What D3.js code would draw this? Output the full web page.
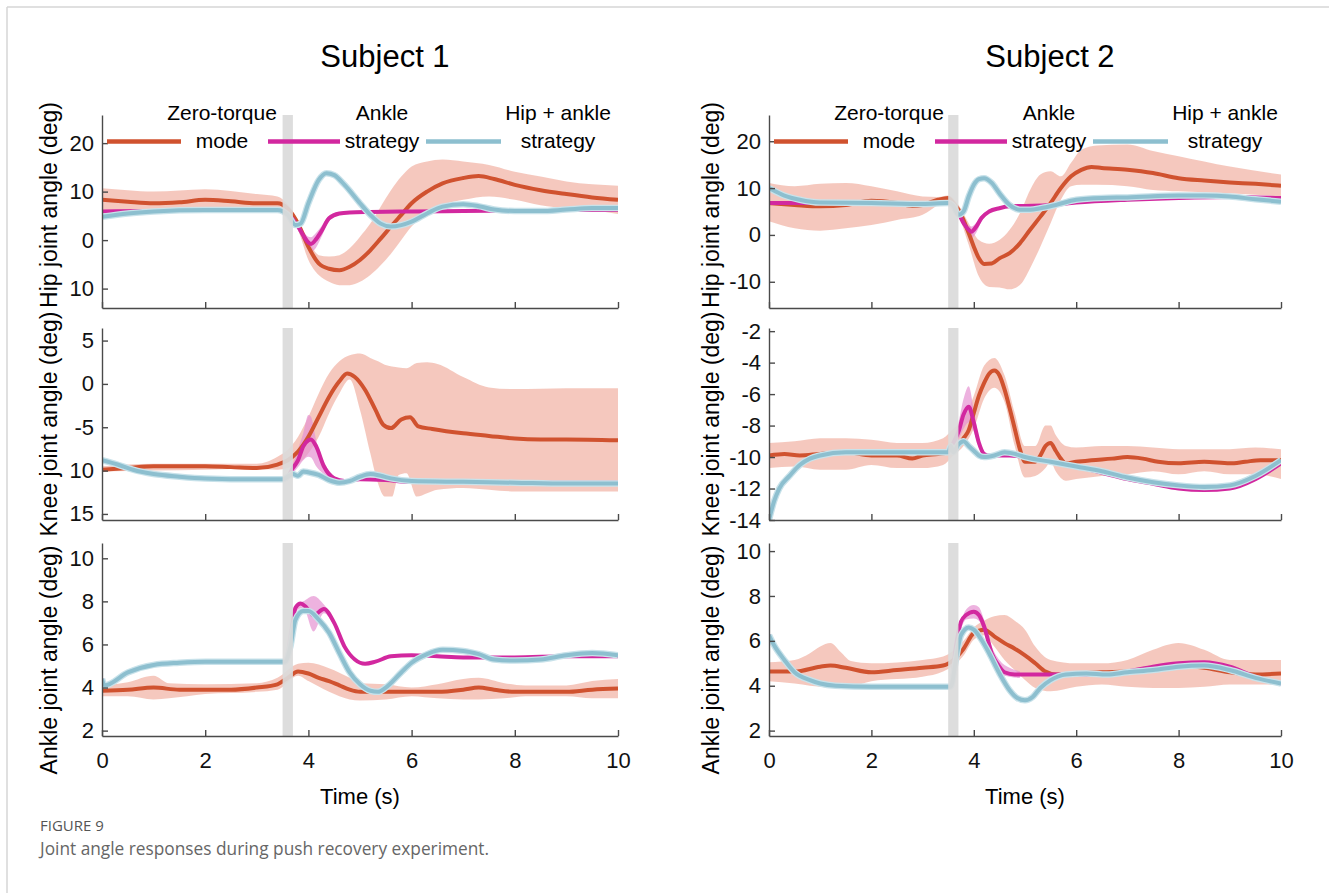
<!DOCTYPE html>
<html>
<head>
<meta charset="utf-8">
<script src="https://cdn.jsdelivr.net/npm/d3@7"></script>
<style>
  html, body { margin: 0; padding: 0; background: #fff; }
  svg { display: block; font-family: "Liberation Sans", Arial, sans-serif; }
  .axis path, .axis line { stroke: #4a4a4a; stroke-width: 1.4; }
  .axis text { font-size: 22px; fill: #111; font-family: "Liberation Sans", Arial, sans-serif; }
</style>
</head>
<body>
<div id="chart"></div>
<script>
// ---- shared values ----
const timeTicks = [0, 2, 4, 6, 8, 10];
const pushWindow = [3.5, 3.7];
const subjects = ["Subject 1", "Subject 2"];
const legendTop = ["Zero-torque", "Ankle", "Hip + ankle"];
const legendBottom = ["mode", "strategy", "strategy"];
const jointLabels = ["Hip joint angle (deg)", "Knee joint angle (deg)", "Ankle joint angle (deg)"];

// y ticks [values, labels as printed]
const s1HipTicks = [20, 10, 0, -10];
const s1HipTickText = ["20", "10", "0", "10"];
const s2HipTicks = [20, 10, 0, -10];
const s2HipTickText = ["20", "10", "0", "-10"];
const s1KneeTicks = [5, 0, -5, -10, -15];
const s1KneeTickText = ["5", "0", "-5", "10", "15"];
const s2KneeTicks = [-2, -4, -6, -8, -10, -12, -14];
const s2KneeTickText = ["-2", "-4", "-6", "-8", "-10", "-12", "-14"];
const ankleTicks = [10, 8, 6, 4, 2];
const ankleTickText = ["10", "8", "6", "4", "2"];

// ---- Subject 1, hip ----
const s1HipZero = [[0,8.3],[0.5,7.9],[1,7.6],[1.5,7.8],[2,8.3],[2.5,8.0],[3,7.6],[3.4,7.6],[3.6,6.5],[3.8,3.4],[4.0,-1.4],[4.2,-4.8],[4.4,-5.9],[4.6,-6.2],[4.8,-5.5],[5.0,-4.1],[5.2,-2.1],[5.4,0.3],[5.6,2.8],[5.8,5.2],[6.0,7.6],[6.3,10],[6.6,11.7],[7.0,12.8],[7.3,13.2],[7.6,12.6],[8.0,11.4],[8.5,10.3],[9.0,9.5],[9.5,8.8],[10,8.3]];
const s1HipZeroBand = [[0,5.9,10.7],[0.5,5.6,10.3],[1,5.5,10.0],[2,5.9,10.5],[3,6.3,9.5],[3.4,6.6,9.0],[3.6,5.6,7.4],[3.8,2.1,4.1],[4.0,-4.1,0],[4.2,-7.2,-3.1],[4.4,-8.6,-3.4],[4.6,-9.3,-3.1],[4.8,-9.3,-1.7],[5.0,-8.6,0.7],[5.2,-7.2,3.4],[5.4,-5.2,6.9],[5.6,-2.8,10.3],[5.8,0,13.1],[6.0,2.8,15.2],[6.3,5.5,16.2],[6.6,7.2,16.6],[7.0,8.3,16.2],[7.5,9.0,15.5],[8.0,8.3,14.1],[8.5,7.2,13.1],[9.0,6.6,12.1],[9.5,6.1,11.5],[10,5.4,11.2]];
const s1HipAnkle = [[0,5.9],[1,6.0],[2,6.1],[3,6.2],[3.45,6.2],[3.6,5.4],[3.8,2.8],[3.9,1.0],[4.0,-0.5],[4.05,-0.8],[4.15,0.2],[4.25,1.8],[4.4,4.5],[4.6,5.5],[4.8,5.7],[5.2,5.8],[6,5.9],[7,6.0],[8,6.1],[9,6.2],[10,6.2]];
const s1HipAnkleBand = [[3.45,6.0,6.4],[3.6,5.0,5.8],[3.8,2.0,3.6],[3.9,-0.2,1.9],[4.0,-2.0,0.7],[4.05,-2.4,0.6],[4.15,-1.5,1.5],[4.25,0.6,2.8],[4.4,3.9,5.0],[4.6,5.2,5.8],[4.8,5.5,5.9]];
const s1HipCombo = [[0,4.8],[0.5,5.5],[1,5.9],[2,6.2],[3.4,6.2],[3.6,5.2],[3.75,3.1],[3.85,3.4],[4.0,7.6],[4.2,12.4],[4.35,13.8],[4.5,13.4],[4.7,11.4],[5.0,7.6],[5.2,5.2],[5.4,3.4],[5.6,2.8],[5.8,3.1],[6.0,3.8],[6.3,5.5],[6.6,6.9],[7.0,7.4],[7.3,7.0],[7.6,6.3],[8.0,6.0],[8.5,6.0],[9.0,6.3],[9.5,6.6],[10,6.6]];

// ---- Subject 1, knee ----
const s1KneeZero = [[0,-9.9],[0.5,-9.7],[1,-9.5],[1.5,-9.5],[2,-9.5],[2.5,-9.6],[3,-9.7],[3.4,-9.3],[3.6,-8.8],[3.8,-7.8],[4.0,-6.1],[4.2,-3.8],[4.4,-1.5],[4.6,0.3],[4.75,1.2],[4.9,0.8],[5.1,-0.7],[5.3,-3.0],[5.45,-4.7],[5.6,-5.1],[5.8,-4.1],[5.97,-3.85],[6.13,-4.9],[6.4,-5.2],[7.0,-5.7],[7.5,-6.0],[8.0,-6.3],[8.5,-6.4],[9,-6.4],[10,-6.5]];
const s1KneeZeroBand = [[0,-10.1,-9.5],[1,-10.0,-9.2],[2,-9.9,-9.2],[3,-9.8,-9.2],[3.4,-9.9,-8.4],[3.6,-9.7,-7.6],[3.8,-9.2,-6.1],[4.0,-8.0,-3.8],[4.2,-6.1,-1.1],[4.4,-3.4,1.2],[4.6,-1.1,2.6],[4.8,0.5,3.3],[5.0,-3.0,3.5],[5.2,-8.0,3.0],[5.35,-11.5,2.6],[5.48,-13.0,2.2],[5.62,-13.0,2.0],[5.75,-10.5,1.9],[5.9,-10.3,1.8],[6.1,-13.0,2.4],[6.3,-12.6,2.5],[6.5,-12.2,2.3],[7.0,-12.0,0.8],[7.5,-12.2,-0.4],[8.0,-12.4,-0.6],[9.0,-12.4,-0.5],[10,-12.4,-0.5]];
const s1KneeAnkle = [[0,-8.8],[0.3,-9.3],[0.6,-9.9],[1,-10.4],[1.5,-10.7],[2,-10.9],[3,-11.0],[3.55,-11.0],[3.7,-9.7],[3.8,-8.8],[3.9,-7.2],[4.0,-6.5],[4.05,-6.4],[4.15,-7.2],[4.3,-9.5],[4.5,-10.9],[4.7,-11.2],[5.0,-11.0],[5.5,-11.1],[6,-11.3],[7,-11.3],[8,-11.4],[10,-11.4]];
const s1KneeAnkleBand = [[3.55,-11.2,-10.8],[3.7,-10.3,-9.2],[3.8,-9.6,-7.5],[3.9,-8.8,-5.7],[4.0,-8.4,-3.6],[4.05,-8.5,-3.8],[4.15,-9.5,-6.5],[4.3,-10.4,-9.0],[4.5,-11.2,-10.6]];
const s1KneeCombo = [[0,-8.8],[0.3,-9.3],[0.6,-9.9],[1,-10.4],[1.5,-10.7],[2,-10.9],[3,-11.0],[3.5,-11.0],[3.6,-10.7],[3.7,-10.4],[3.8,-10.6],[3.9,-10.1],[4.0,-10.2],[4.2,-10.5],[4.4,-11.1],[4.6,-11.4],[4.8,-11.2],[5.0,-10.7],[5.2,-10.4],[5.4,-10.6],[5.6,-10.9],[6,-11.2],[7,-11.3],[8,-11.4],[9,-11.5],[10,-11.5]];

// ---- Subject 1, ankle ----
const s1AnkleZero = [[0,3.85],[0.5,3.9],[1,4.0],[1.5,3.9],[2,3.9],[2.5,3.9],[3,4.0],[3.4,4.15],[3.6,4.45],[3.8,4.75],[4,4.65],[4.2,4.45],[4.4,4.3],[4.6,4.1],[4.8,3.9],[5,3.8],[5.5,3.8],[6,3.8],[6.5,3.8],[7,3.9],[7.3,4.0],[7.6,3.9],[8,3.8],[8.5,3.8],[9,3.8],[9.5,3.9],[10,3.95]];
const s1AnkleZeroBand = [[0,3.6,4.1],[0.5,3.6,4.25],[1.0,3.45,4.55],[1.3,3.5,4.2],[2,3.7,4.15],[3,3.8,4.2],[3.4,3.9,4.45],[3.8,4.55,5.1],[4.0,4.3,5.15],[4.4,3.8,4.9],[4.8,3.45,4.45],[5.0,3.4,4.2],[5.5,3.45,4.15],[6,3.6,4.0],[6.5,3.5,4.15],[7.0,3.45,4.4],[7.3,3.45,4.45],[7.8,3.5,4.2],[8.2,3.6,4.1],[9,3.6,4.1],[9.5,3.5,4.3],[10,3.5,4.4]];
const s1AnkleAnkle = [[0,4.4],[0.05,4.1],[0.5,4.7],[1,5.05],[1.5,5.15],[2,5.2],[3,5.2],[3.55,5.2],[3.65,6.1],[3.75,7.7],[3.85,7.9],[3.95,7.75],[4.1,7.35],[4.3,7.65],[4.5,7.0],[4.7,5.9],[4.9,5.3],[5.1,5.1],[5.3,5.2],[5.6,5.45],[6,5.5],[6.5,5.45],[7,5.4],[8,5.4],[9,5.45],[10,5.45]];
const s1AnkleAnkleBand = [[3.55,5.1,5.3],[3.75,7.5,7.85],[3.9,7.7,8.0],[4.1,6.6,8.25],[4.3,7.45,7.85],[4.5,6.85,7.15]];
const s1AnkleCombo = [[0,4.4],[0.05,4.1],[0.5,4.7],[1,5.05],[1.5,5.15],[2,5.2],[3,5.2],[3.55,5.2],[3.65,5.9],[3.75,7.15],[3.9,7.55],[4.0,7.55],[4.2,7.15],[4.4,6.55],[4.6,5.6],[4.8,4.7],[5.0,4.15],[5.2,3.85],[5.35,3.8],[5.5,4.0],[5.8,4.7],[6.0,5.15],[6.3,5.55],[6.6,5.75],[7.0,5.7],[7.3,5.55],[7.6,5.3],[8.0,5.25],[8.5,5.3],[9,5.5],[9.5,5.6],[10,5.5]];

// ---- Subject 2, hip ----
const s2HipZero = [[0,6.8],[0.5,6.4],[1.0,6.1],[1.5,6.4],[2.0,7.3],[2.5,6.8],[2.8,6.2],[3.0,6.4],[3.3,7.5],[3.5,7.9],[3.6,6.8],[3.7,5.4],[3.8,3.2],[3.9,0.4],[4.0,-2.5],[4.1,-5.0],[4.2,-6.2],[4.35,-6.1],[4.5,-5.0],[4.7,-3.9],[4.9,-1.8],[5.1,1.1],[5.3,3.9],[5.5,6.8],[5.7,10],[5.9,12.5],[6.1,13.9],[6.3,14.5],[6.5,14.3],[7,13.9],[7.5,13.2],[8,12.1],[8.5,11.6],[9,11.2],[9.5,10.9],[10,10.5]];
const s2HipZeroBand = [[0,2.9,11.1],[0.5,1.4,10.4],[1.0,0.9,10.9],[1.5,1.4,11.1],[2.0,2.1,10.4],[2.5,3.2,9.3],[3.0,4.3,8.2],[3.3,6.4,8.1],[3.5,7.4,8.4],[3.7,4.3,6.4],[3.9,-2.1,2.5],[4.1,-8.9,-1.1],[4.3,-11.1,-1.9],[4.5,-11.2,-1.1],[4.7,-11.6,1.1],[4.9,-10.7,4.6],[5.1,-7.1,9.6],[5.3,-2.5,12.9],[5.5,2.5,13.6],[5.7,7.5,12.5],[5.9,10.4,15.4],[6.1,10.7,18.2],[6.4,10.7,19.1],[7.0,10.4,19.3],[7.5,9.6,17.9],[8,9.3,16.8],[9,8.9,14.6],[10,8.2,12.9]];
const s2HipAnkle = [[0,6.8],[1,6.8],[2,6.8],[3,6.7],[3.5,6.8],[3.6,6.1],[3.7,4.6],[3.8,2.5],[3.9,1.1],[3.95,0.7],[4.05,1.8],[4.15,3.6],[4.3,5.0],[4.5,5.7],[4.7,6.1],[5,6.2],[5.5,6.4],[6,6.9],[7,7.5],[8,7.9],[9,8.1],[10,7.9]];
const s2HipAnkleBand = [[3.5,6.6,7.0],[3.6,5.9,6.3],[3.8,2.0,3.0],[3.95,-0.7,1.8],[4.05,0.5,2.6],[4.15,2.9,4.2],[4.3,4.6,5.3],[4.5,5.5,5.9]];
const s2HipCombo = [[0,10],[0.3,8.4],[0.6,7.5],[1.0,6.9],[2,6.8],[3,6.6],[3.5,6.8],[3.6,6.2],[3.7,4.3],[3.8,5.0],[3.9,8.2],[4.0,10.7],[4.1,11.9],[4.2,12.1],[4.35,11.1],[4.5,8.9],[4.7,6.4],[4.9,5.4],[5.1,5.4],[5.3,5.7],[5.6,6.4],[6.0,7.5],[6.5,7.9],[7,8.0],[8,8.4],[8.5,8.4],[9,8.2],[9.5,7.6],[10,7.1]];

// ---- Subject 2, knee ----
const s2KneeZero = [[0,-9.9],[0.3,-9.8],[0.6,-9.9],[1,-9.8],[1.5,-9.7],[2,-9.9],[2.5,-9.9],[2.8,-10.1],[3.0,-9.9],[3.3,-9.8],[3.5,-9.7],[3.7,-9.3],[3.8,-8.8],[3.9,-8.3],[4.0,-7.2],[4.1,-6.1],[4.2,-5.3],[4.3,-4.7],[4.4,-4.5],[4.5,-4.8],[4.6,-5.7],[4.7,-6.9],[4.8,-8.2],[4.9,-9.5],[5.0,-10.3],[5.1,-10.3],[5.2,-10.3],[5.3,-9.9],[5.4,-9.3],[5.5,-9.1],[5.6,-9.6],[5.7,-10.1],[5.8,-10.4],[6.0,-10.3],[6.3,-10.2],[6.7,-10.1],[7,-10.0],[7.3,-10.1],[7.6,-10.3],[8,-10.4],[8.5,-10.3],[9,-10.4],[9.3,-10.3],[9.6,-10.2],[10,-10.2]];
const s2KneeZeroBand = [[0,-10.7,-9.1],[0.5,-10.6,-9.0],[1.0,-10.8,-8.8],[1.5,-10.8,-8.8],[2,-10.5,-8.9],[2.5,-10.7,-9.1],[3,-10.7,-9.1],[3.4,-10.5,-8.8],[3.6,-9.9,-8.2],[3.8,-9.3,-7.6],[4.0,-8.2,-6.1],[4.2,-6.3,-4.2],[4.4,-5.6,-3.7],[4.6,-6.5,-4.8],[4.8,-9.3,-7.2],[5.0,-11.3,-9.3],[5.2,-11.2,-9.3],[5.4,-10.7,-8.0],[5.5,-10.3,-8.0],[5.6,-10.9,-8.6],[5.8,-11.5,-9.3],[6.0,-11.4,-9.4],[6.5,-11.2,-9.3],[7,-11.1,-9.3],[7.5,-10.9,-9.4],[8,-11.1,-9.5],[8.5,-10.9,-9.5],[9,-11.1,-9.5],[9.5,-11.1,-9.4],[10,-11.4,-9.5]];
const s2KneeAnkle = [[0,-14.0],[0.1,-12.8],[0.2,-12.0],[0.4,-11.2],[0.6,-10.5],[0.8,-10.1],[1.0,-9.9],[1.5,-9.7],[2,-9.7],[3,-9.7],[3.5,-9.7],[3.6,-9.1],[3.7,-8.4],[3.8,-7.3],[3.9,-6.8],[4.0,-7.8],[4.1,-9.1],[4.2,-9.8],[4.3,-9.9],[4.5,-9.9],[4.7,-9.9],[5.0,-10.0],[5.5,-10.3],[6,-10.6],[6.5,-11.0],[7,-11.4],[7.5,-11.7],[8,-12.0],[8.5,-12.1],[9,-12.0],[9.5,-11.4],[10,-10.4]];
const s2KneeAnkleBand = [[3.6,-9.4,-8.8],[3.7,-8.9,-7.8],[3.8,-8.2,-6.3],[3.9,-7.8,-5.5],[4.0,-8.4,-7.0],[4.1,-9.4,-8.8],[4.2,-10.0,-9.6]];
const s2KneeCombo = [[0,-14.0],[0.1,-12.8],[0.2,-12.0],[0.4,-11.2],[0.6,-10.5],[0.8,-10.1],[1.0,-9.9],[1.5,-9.7],[2,-9.7],[3,-9.7],[3.5,-9.7],[3.55,-9.3],[3.6,-9.7],[3.7,-9.2],[3.8,-9.0],[3.9,-9.3],[4.0,-9.6],[4.1,-9.9],[4.2,-10.0],[4.4,-9.9],[4.6,-9.7],[4.8,-9.8],[5.0,-10.0],[5.5,-10.3],[6.0,-10.6],[6.5,-10.9],[7,-11.3],[7.5,-11.6],[8,-11.8],[8.5,-11.9],[9,-11.8],[9.5,-11.2],[10,-10.2]];

// ---- Subject 2, ankle ----
const s2AnkleZero = [[0,4.63],[0.5,4.63],[1.0,4.85],[1.2,4.9],[1.5,4.8],[2,4.6],[2.5,4.7],[3,4.8],[3.4,4.9],[3.6,5.15],[3.8,5.65],[4.0,6.35],[4.2,6.5],[4.4,6.2],[4.6,5.9],[4.8,5.65],[5.0,5.35],[5.2,5.0],[5.4,4.63],[5.6,4.5],[6,4.55],[6.5,4.6],[7,4.63],[7.5,4.7],[8,4.9],[8.5,4.8],[9,4.6],[9.5,4.5],[10,4.55]];
const s2AnkleZeroBand = [[0,4.2,5.05],[0.5,4.1,5.15],[0.8,4.0,5.45],[1.0,3.95,5.75],[1.2,3.9,5.9],[1.4,3.9,5.5],[1.6,3.95,5.1],[2,4.2,5.0],[3,4.4,5.15],[3.4,4.63,5.3],[3.8,5.35,6.0],[4.0,6.05,6.6],[4.2,6.25,6.9],[4.4,5.75,7.1],[4.6,5.15,7.15],[4.8,4.7,6.9],[5.0,4.25,6.5],[5.2,3.9,5.75],[5.5,3.75,5.15],[6,3.95,5.0],[6.5,4.05,5.0],[7,3.95,5.15],[7.5,3.9,5.6],[8,3.9,5.9],[8.5,3.95,5.6],[9,4.05,5.15],[10,4.05,5.15]];
const s2AnkleAnkle = [[0,6.25],[0.1,5.8],[0.3,5.15],[0.5,4.6],[0.8,4.25],[1.0,4.1],[1.3,4.0],[2,3.95],[3,3.95],[3.55,3.95],[3.65,5.75],[3.75,6.85],[3.85,7.15],[4.0,7.3],[4.1,7.15],[4.2,6.65],[4.35,5.45],[4.5,4.85],[4.6,4.6],[4.8,4.5],[5.0,4.5],[5.5,4.5],[6,4.5],[6.5,4.5],[7,4.63],[7.5,4.85],[8,5.0],[8.5,5.05],[9,4.85],[9.5,4.4],[10,4.1]];
const s2AnkleAnkleBand = [[3.65,5.6,5.9],[3.85,6.95,7.4],[4.0,7.0,7.6],[4.1,6.9,7.5],[4.2,6.4,6.95],[4.35,5.2,5.75],[4.5,4.55,5.15],[4.7,4.4,4.8],[4.9,4.35,4.65]];
const s2AnkleCombo = [[0,6.25],[0.1,5.8],[0.3,5.15],[0.5,4.6],[0.8,4.25],[1.0,4.1],[1.3,4.0],[2,3.95],[3,3.95],[3.55,3.95],[3.65,5.15],[3.75,6.25],[3.9,6.6],[4.0,6.5],[4.15,6.05],[4.3,5.45],[4.5,4.55],[4.7,3.8],[4.85,3.45],[5.0,3.35],[5.15,3.5],[5.3,3.9],[5.5,4.25],[5.8,4.5],[6.2,4.55],[6.6,4.5],[7,4.6],[7.5,4.7],[8,4.85],[8.5,4.9],[9,4.7],[9.5,4.35],[10,4.1]];

// ---- layout ----
const width = 1329, height = 893;
const colX = [[102, 618], [769, 1281]];
const rowY = [[115, 308], [328, 520], [543, 736]];
const labelX = [57, 719];
const labelY = [205, 424, 660];
const colors = {
  zero: "#d0522f", zeroBand: "#ec9b88",
  ankle: "#d2289f", ankleBand: "#e592d2",
  combo: "#8dbfcf", comboHalo: "#c8e2ea"
};

const panels = [
  {col: 0, row: 0, domain: [-14.0, 25.8], ticks: s1HipTicks, tickText: s1HipTickText,
   zero: s1HipZero, zeroBand: s1HipZeroBand, ankle: s1HipAnkle, ankleBand: s1HipAnkleBand, combo: s1HipCombo},
  {col: 0, row: 1, domain: [-15.7, 6.45], ticks: s1KneeTicks, tickText: s1KneeTickText,
   zero: s1KneeZero, zeroBand: s1KneeZeroBand, ankle: s1KneeAnkle, ankleBand: s1KneeAnkleBand, combo: s1KneeCombo},
  {col: 0, row: 2, domain: [1.75, 10.71], ticks: ankleTicks, tickText: ankleTickText,
   zero: s1AnkleZero, zeroBand: s1AnkleZeroBand, ankle: s1AnkleAnkle, ankleBand: s1AnkleAnkleBand, combo: s1AnkleCombo},
  {col: 1, row: 0, domain: [-15.6, 25.6], ticks: s2HipTicks, tickText: s2HipTickText,
   zero: s2HipZero, zeroBand: s2HipZeroBand, ankle: s2HipAnkle, ankleBand: s2HipAnkleBand, combo: s2HipCombo},
  {col: 1, row: 1, domain: [-14.0, -1.8], ticks: s2KneeTicks, tickText: s2KneeTickText,
   zero: s2KneeZero, zeroBand: s2KneeZeroBand, ankle: s2KneeAnkle, ankleBand: s2KneeAnkleBand, combo: s2KneeCombo},
  {col: 1, row: 2, domain: [1.76, 10.36], ticks: ankleTicks, tickText: ankleTickText,
   zero: s2AnkleZero, zeroBand: s2AnkleZeroBand, ankle: s2AnkleAnkle, ankleBand: s2AnkleAnkleBand, combo: s2AnkleCombo}
];

const svg = d3.select("#chart").append("svg")
  .attr("width", width)
  .attr("height", height);

// page frame (faint rule on top and left)
svg.append("line").attr("x1", 7).attr("x2", width).attr("y1", 7).attr("y2", 7)
  .attr("stroke", "#d6d6d6").attr("stroke-width", 1.5);
svg.append("line").attr("x1", 7).attr("x2", 7).attr("y1", 7).attr("y2", height)
  .attr("stroke", "#d6d6d6").attr("stroke-width", 1.5);

// titles
subjects.forEach(function(name, i) {
  svg.append("text")
    .attr("x", (colX[i][0] + colX[i][1]) / 2 + 25)
    .attr("y", 67)
    .attr("text-anchor", "middle")
    .style("font-size", "31px")
    .style("fill", "#000")
    .text(name);
});

panels.forEach(function(p, idx) {
  const x0 = colX[p.col][0], x1 = colX[p.col][1];
  const y0 = rowY[p.row][0], y1 = rowY[p.row][1];

  const xScale = d3.scaleLinear().domain([0, 10]).range([x0, x1]);
  const yScale = d3.scaleLinear().domain(p.domain).range([y1, y0]);

  const clipId = "clip" + idx;
  svg.append("clipPath").attr("id", clipId)
    .append("rect").attr("x", x0).attr("y", y0).attr("width", x1 - x0).attr("height", y1 - y0);

  const g = svg.append("g").attr("clip-path", "url(#" + clipId + ")");

  const area = d3.area()
    .x(d => xScale(d[0]))
    .y0(d => yScale(d[1]))
    .y1(d => yScale(d[2]))
    .curve(d3.curveMonotoneX);

  const line = d3.line()
    .x(d => xScale(d[0]))
    .y(d => yScale(d[1]))
    .curve(d3.curveMonotoneX);

  g.append("path").datum(p.zeroBand).attr("d", area)
    .attr("fill", colors.zeroBand).attr("fill-opacity", 0.55);
  g.append("path").datum(p.ankleBand).attr("d", area)
    .attr("fill", colors.ankleBand).attr("fill-opacity", 0.7);

  g.append("path").datum(p.zero).attr("d", line)
    .attr("fill", "none").attr("stroke", colors.zero).attr("stroke-width", 4);
  g.append("path").datum(p.ankle).attr("d", line)
    .attr("fill", "none").attr("stroke", colors.ankle).attr("stroke-width", 4);
  g.append("path").datum(p.combo).attr("d", line)
    .attr("fill", "none").attr("stroke", colors.comboHalo).attr("stroke-width", 6.5);
  g.append("path").datum(p.combo).attr("d", line)
    .attr("fill", "none").attr("stroke", colors.combo).attr("stroke-width", 4);

  // push window
  g.append("rect")
    .attr("x", xScale(pushWindow[0]))
    .attr("width", xScale(pushWindow[1]) - xScale(pushWindow[0]))
    .attr("y", y0).attr("height", y1 - y0)
    .attr("fill", "#dadada").attr("fill-opacity", 0.92);

  // axes
  const axisX = d3.axisBottom(xScale)
    .tickValues(timeTicks)
    .tickSizeInner(-6).tickSizeOuter(0).tickPadding(16)
    .tickFormat(p.row === 2 ? d3.format("d") : () => "");
  svg.append("g").attr("class", "axis")
    .attr("transform", "translate(0," + y1 + ")")
    .call(axisX);

  const axisY = d3.axisLeft(yScale)
    .tickValues(p.ticks)
    .tickSizeInner(-6).tickSizeOuter(0).tickPadding(8)
    .tickFormat((d, i) => p.tickText[i]);
  svg.append("g").attr("class", "axis")
    .attr("transform", "translate(" + x0 + ",0)")
    .call(axisY);

  // y label
  svg.append("text")
    .attr("transform", "translate(" + labelX[p.col] + "," + labelY[p.row] + ") rotate(-90)")
    .attr("text-anchor", "middle")
    .style("font-size", "23px")
    .style("fill", "#000")
    .text(jointLabels[p.row]);

  if (p.row === 2) {
    svg.append("text")
      .attr("x", (x0 + x1) / 2)
      .attr("y", 804)
      .attr("text-anchor", "middle")
      .style("font-size", "22px")
      .style("fill", "#000")
      .text("Time (s)");
  }

  // legend in the hip panels
  if (p.row === 0) {
    const legendColors = [colors.zero, colors.ankle, colors.combo];
    const lineSpan = [[5, 79], [166, 238], [324, 399]];
    const textMid = [120, 280, 456];
    legendColors.forEach(function(c, i) {
      svg.append("line")
        .attr("x1", x0 + lineSpan[i][0]).attr("x2", x0 + lineSpan[i][1])
        .attr("y1", 141.5).attr("y2", 141.5)
        .attr("stroke", c).attr("stroke-width", 4.5);
      svg.append("text")
        .attr("x", x0 + textMid[i]).attr("y", 120)
        .attr("text-anchor", "middle")
        .style("font-size", "21px").style("fill", "#000")
        .text(legendTop[i]);
      svg.append("text")
        .attr("x", x0 + textMid[i]).attr("y", 148)
        .attr("text-anchor", "middle")
        .style("font-size", "21px").style("fill", "#000")
        .text(legendBottom[i]);
    });
  }
});

// caption
svg.append("text")
  .attr("x", 40).attr("y", 831)
  .style("font-family", "'Open Sans', 'Noto Sans', sans-serif")
  .style("font-size", "15px")
  .style("fill", "#555")
  .text("FIGURE 9");
svg.append("text")
  .attr("x", 40).attr("y", 855)
  .style("font-family", "'Open Sans', 'Noto Sans', sans-serif")
  .style("font-size", "17.3px")
  .style("fill", "#666")
  .text("Joint angle responses during push recovery experiment.");
</script>
</body>
</html>
